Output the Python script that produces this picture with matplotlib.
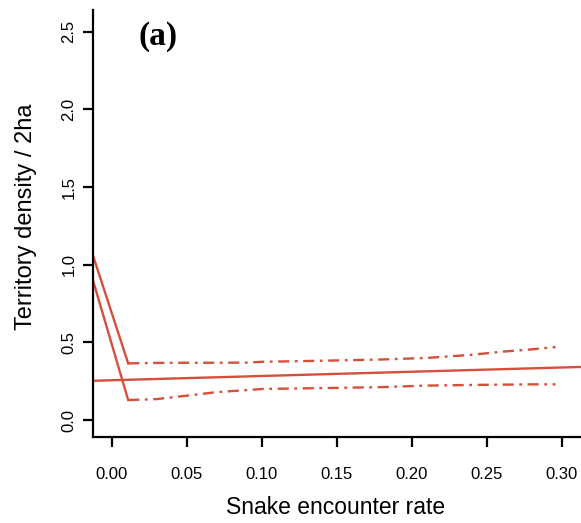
import matplotlib
matplotlib.use("Agg")
import matplotlib.pyplot as plt
import numpy as np

# fitted line across the whole range
fit_x = [-0.0125, 0.313]
fit_y = [0.253, 0.342]

# steep segments from the left edge down to the start of the bands
upper_lead_x = [-0.0125, 0.011]
upper_lead_y = [1.06, 0.365]
lower_lead_x = [-0.0125, 0.011]
lower_lead_y = [0.90, 0.129]

# confidence band (dash-dot)
band_x = [0.011, 0.03, 0.05, 0.07, 0.09, 0.10, 0.14, 0.18, 0.21, 0.24, 0.26, 0.28, 0.296]
band_hi = [0.365, 0.368, 0.369, 0.369, 0.370, 0.375, 0.382, 0.390, 0.400, 0.420, 0.440, 0.455, 0.470]
band_lo = [0.129, 0.135, 0.157, 0.180, 0.193, 0.200, 0.206, 0.212, 0.222, 0.226, 0.228, 0.230, 0.230]

xticks = [0.00, 0.05, 0.10, 0.15, 0.20, 0.25, 0.30]
yticks = [0.0, 0.5, 1.0, 1.5, 2.0, 2.5]

col = "#d4503a"

plt.rcParams["font.family"] = ["Liberation Sans", "DejaVu Sans"]
plt.rcParams["lines.scale_dashes"] = False

fig = plt.figure(figsize=(5.81, 5.23), dpi=100)
ax = fig.add_axes([0.160, 0.165, 0.840, 0.816])

ax.plot(fit_x, fit_y, color=col, lw=1.7, solid_capstyle="butt")
ax.plot(upper_lead_x, upper_lead_y, color=col, lw=1.7)
ax.plot(lower_lead_x, lower_lead_y, color=col, lw=1.7)
dd = (0, (8, 4, 2, 4))
ax.plot(band_x, band_hi, color=col, lw=1.7, linestyle=dd)
ax.plot(band_x, band_lo, color=col, lw=1.7, linestyle=dd)

ax.set_xlim(-0.0125, 0.313)
ax.set_ylim(-0.107, 2.64)

for s in ["top", "right"]:
    ax.spines[s].set_visible(False)
for s in ["left", "bottom"]:
    ax.spines[s].set_linewidth(1.6)

ax.set_xticks(xticks)
ax.set_xticklabels(["%.2f" % v for v in xticks], fontsize=12)
ax.set_yticks(yticks)
ax.set_yticklabels(["%.1f" % v for v in yticks], fontsize=12, rotation=90, va="center")
ax.tick_params(axis="x", direction="out", length=7, width=1.6, pad=15)
ax.tick_params(axis="y", direction="out", length=7, width=1.6, pad=5)

fig.text(336 / 581, 1 - 508 / 523, "Snake encounter rate", fontsize=16.5,
         ha="center", va="center")
fig.text(26 / 581, 1 - 217 / 523, "Territory density / 2ha", fontsize=17,
         rotation=90, ha="center", va="center")

fig.text(158 / 581, 1 - 37 / 523, "(a)", fontsize=24, fontweight="bold",
         family=["Liberation Serif", "DejaVu Serif"], ha="center", va="center")

fig.savefig("out.png", dpi=100)
